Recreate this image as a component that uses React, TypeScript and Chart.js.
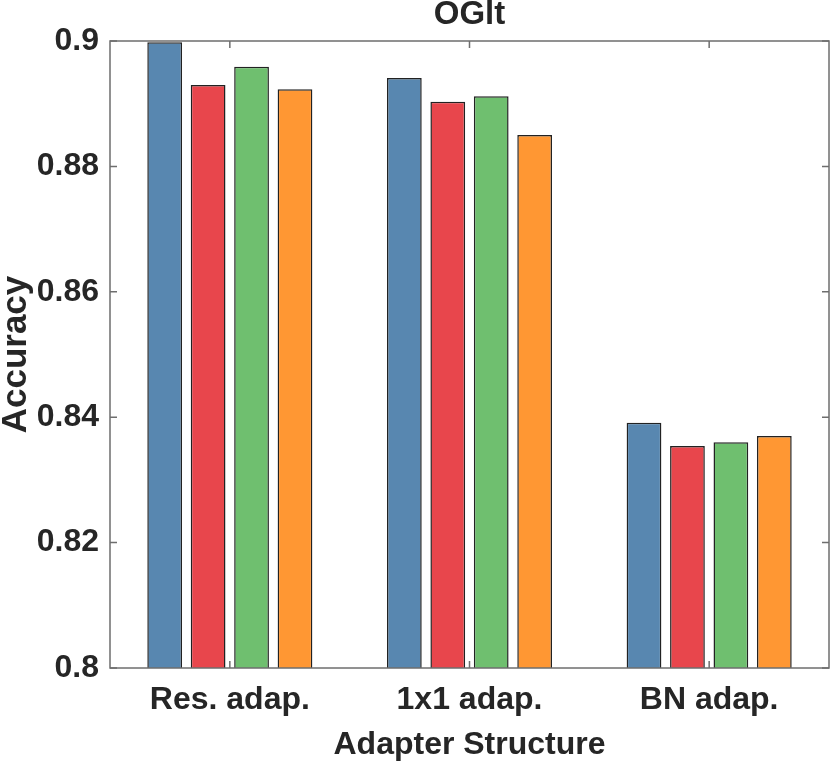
import React, { useEffect, useRef } from 'react';
import { Chart, ChartConfiguration, Plugin, registerables } from 'chart.js';

Chart.register(...registerables);

const categories = ['Res. adap.', '1x1 adap.', 'BN adap.'];
const seriesA = [0.8998, 0.8941, 0.8391];
const seriesB = [0.8930, 0.8903, 0.8354];
const seriesC = [0.8959, 0.8912, 0.8360];
const seriesD = [0.8923, 0.8850, 0.8370];
const seriesNames = ['A', 'B', 'C', 'D'];
const seriesColors = ['#5887B0', '#E8464C', '#6FBF6F', '#FF9733'];

const FONT = '"Liberation Sans", Arial, sans-serif';
const AXIS_COLOR = '#6e6e6e';
const TEXT_COLOR = '#262626';

// box around the plot with inward tick marks (MATLAB style)
const boxPlugin: Plugin<'bar'> = {
  id: 'boxPlugin',
  afterDatasetsDraw(chart) {
    const { ctx, chartArea } = chart;
    const { left, right, top, bottom } = chartArea;
    const x = chart.scales.x;
    const y = chart.scales.y;
    const len = 7;
    ctx.save();
    ctx.strokeStyle = AXIS_COLOR;
    ctx.lineWidth = 1.5;
    ctx.strokeRect(left, top, right - left, bottom - top);
    ctx.beginPath();
    y.ticks.forEach((t) => {
      const py = y.getPixelForValue(t.value);
      ctx.moveTo(left, py);
      ctx.lineTo(left + len, py);
      ctx.moveTo(right, py);
      ctx.lineTo(right - len, py);
    });
    x.ticks.forEach((_t, i) => {
      const px = x.getPixelForTick(i);
      ctx.moveTo(px, bottom);
      ctx.lineTo(px, bottom - len);
      ctx.moveTo(px, top);
      ctx.lineTo(px, top + len);
    });
    ctx.stroke();
    ctx.restore();
  }
};

const App = () => {
  const ref = useRef<HTMLCanvasElement | null>(null);
  const chartRef = useRef<Chart<'bar'> | null>(null);

  useEffect(() => {
    const values = [seriesA, seriesB, seriesC, seriesD];
    const config: ChartConfiguration<'bar'> = {
      type: 'bar',
      data: {
        labels: categories,
        datasets: values.map((v, i) => ({
          label: seriesNames[i],
          data: v,
          backgroundColor: seriesColors[i],
          borderColor: '#222222',
          borderWidth: 1.5,
          categoryPercentage: 0.725,
          barPercentage: 0.8
        }))
      },
      options: {
        animation: false,
        responsive: true,
        maintainAspectRatio: false,
        layout: { padding: { right: 1, left: 0, top: 0, bottom: 0 } },
        plugins: {
          legend: { display: false },
          tooltip: { enabled: false },
          title: {
            display: true,
            text: 'OGlt',
            fullSize: false,
            color: TEXT_COLOR,
            font: { family: FONT, size: 33, weight: 'bold', lineHeight: 0.9 },
            padding: { top: 0, bottom: 11.3 }
          }
        },
        scales: {
          x: {
            grid: { display: false, drawTicks: false },
            border: { display: false },
            ticks: {
              color: TEXT_COLOR,
              padding: 13,
              font: { family: FONT, size: 32, weight: 'bold' }
            },
            title: {
              display: true,
              text: 'Adapter Structure',
              color: TEXT_COLOR,
              padding: { top: 1, bottom: 1 },
              font: { family: FONT, size: 32, weight: 'bold', lineHeight: 1.2 }
            },
            afterFit(scale) {
              scale.height = 97;
            }
          },
          y: {
            min: 0.8,
            max: 0.9,
            grid: { display: false, drawTicks: false },
            border: { display: false },
            ticks: {
              stepSize: 0.02,
              color: TEXT_COLOR,
              padding: 11,
              font: { family: FONT, size: 32, weight: 'bold' },
              callback: (v) => String(Math.round(Number(v) * 100) / 100)
            },
            title: {
              display: true,
              text: 'Accuracy',
              color: TEXT_COLOR,
              padding: 0,
              font: { family: FONT, size: 35, weight: 'bold', lineHeight: 0.95 }
            },
            afterFit(scale) {
              scale.width = 110;
            }
          }
        }
      },
      plugins: [boxPlugin]
    };

    if (chartRef.current) {
      chartRef.current.destroy();
    }
    if (ref.current) {
      chartRef.current = new Chart(ref.current, config);
    }
    return () => {
      chartRef.current?.destroy();
      chartRef.current = null;
    };
  }, []);

  return (
    <div style={{ position: 'absolute', left: 0, top: 0, width: 830, height: 765, background: '#fff' }}>
      <canvas ref={ref}></canvas>
    </div>
  );
};

export default App;
